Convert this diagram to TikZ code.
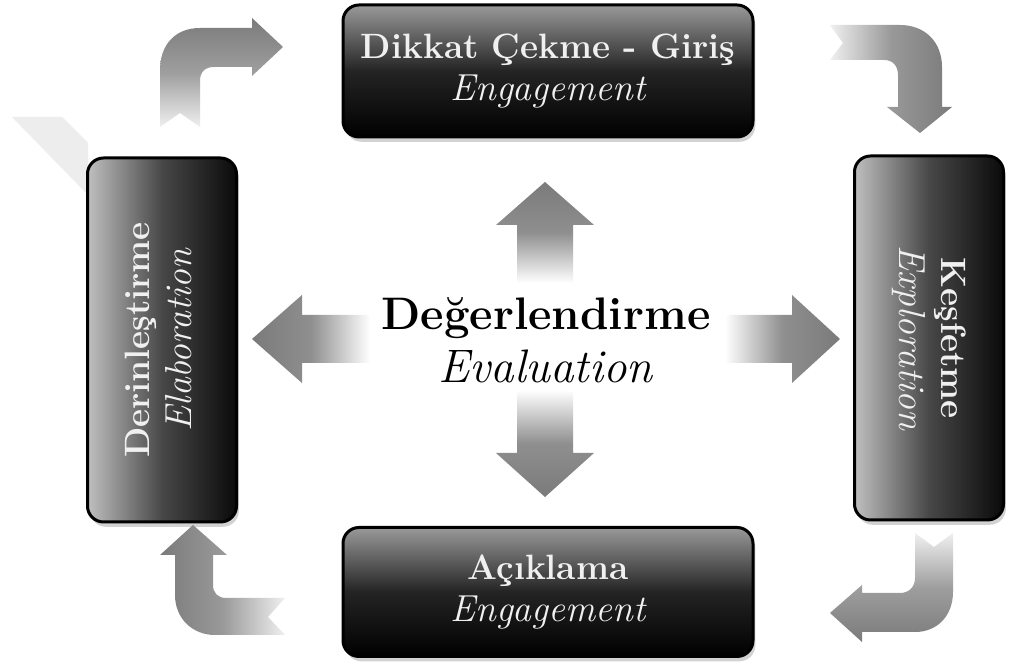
\documentclass[tikz,border=0pt]{standalone}
\usepackage{fontspec}
\usetikzlibrary{shadows}

\newcommand{\stagename}[1]{{\fontsize{17.6}{21}\selectfont\bfseries #1}}
\newcommand{\stageeng}[1]{{\fontsize{18.8}{21}\selectfont\itshape #1}}

\begin{document}
\begin{tikzpicture}[x=0.5pt,y=0.5pt,
    stagebox/.style={draw=black, line width=1.5pt,
      rounded corners=8pt, text=white!94!black, align=center, inner sep=0pt,
      font=\fontsize{18.8}{21}\selectfont,
      drop shadow={shadow xshift=1.2pt, shadow yshift=-2.4pt, opacity=.35}},
    hstage/.style={stagebox, minimum width=205pt, minimum height=66pt,
      top color=black!40, bottom color=black, middle color=black!86},
    vstage/.style={stagebox, minimum width=74.5pt, minimum height=182pt,
      left color=black!25, right color=black!96, middle color=black!72},
    bentup/.style={top color=black!52, bottom color=black!6, middle color=black!38},
    bentdown/.style={top color=black!6, bottom color=black!52, middle color=black!38},
    bentright/.style={left color=black!6, right color=black!52, middle color=black!40},
    bentleft/.style={left color=black!52, right color=black!6, middle color=black!40},
    fadeup/.style={top color=black!52, bottom color=white, middle color=black!44},
    fadedown/.style={top color=white, bottom color=black!52, middle color=black!44},
    fadeleft/.style={left color=black!52, right color=white, middle color=black!44},
    faderight/.style={left color=white, right color=black!52, middle color=black!44}
  ]
  \path[use as bounding box, fill=white] (0,0) rectangle (1009,-672);

  % pale band behind the left box
  \fill[black!7] (12,-117) -- (62,-117) -- (88,-143) -- (88,-195) -- cycle;

  % stages
  \node[hstage] (engage) at (548,-71)
    {\stagename{Dikkat Çekme - Giriş}\\\stageeng{Engagement}};
  \node[vstage] (explore) at (929,-338)
    {\rotatebox{-90}{\begin{tabular}{@{}c@{}}\stagename{Keşfetme}\\\stageeng{Exploration}\end{tabular}}};
  \node[hstage, minimum height=64.5pt] (explain) at (548,-592)
    {\stagename{Açıklama}\\\stageeng{Engagement}};
  \node[vstage] (elaborate) at (162,-340)
    {\rotatebox{90}{\begin{tabular}{@{}c@{}}\stagename{Derinleştirme}\\\stageeng{Elaboration}\end{tabular}}};

  % centre
  \node[align=center, font=\fontsize{23.5}{26.5}\selectfont] (evaluate) at (546,-340)
    {{\fontsize{22.8}{26.5}\selectfont\bfseries Değerlendirme}\\\textit{Evaluation}};

  % bent arrows round the cycle
  \path[bentup] (160,-127) -- (160,-70) .. controls (160,-45) and (175,-28) .. (200,-28)
    -- (252,-28) -- (252,-18) -- (283,-47) -- (252,-76) -- (252,-67) -- (214,-67)
    .. controls (205,-67) and (200,-72) .. (200,-81) -- (200,-127) -- (180,-113) -- cycle;
  \path[bentright] (830,-25) -- (900,-25) .. controls (925,-25) and (942,-42) .. (942,-67)
    -- (942,-107) -- (952,-107) -- (920,-133) -- (887,-107) -- (898,-107) -- (898,-75)
    .. controls (898,-66) and (893,-60) .. (884,-60) -- (830,-60) -- (843,-43) -- cycle;
  \path[bentdown] (915,-533) -- (934,-547) -- (953,-533) -- (953,-592)
    .. controls (953,-615) and (938,-632) .. (915,-632) -- (862,-632) -- (862,-642)
    -- (830,-613) -- (862,-585) -- (862,-593) -- (900,-593)
    .. controls (909,-593) and (915,-587) .. (915,-578) -- cycle;
  \path[bentleft] (285,-598) -- (268,-617) -- (285,-635) -- (215,-635)
    .. controls (192,-635) and (175,-618) .. (175,-595) -- (175,-555) -- (160,-555)
    -- (193,-525) -- (227,-555) -- (213,-555) -- (213,-585)
    .. controls (213,-593) and (218,-598) .. (226,-598) -- cycle;

  % arrows out of the centre
  \path[fadeup] (517,-283) -- (517,-225) -- (496,-225) -- (545,-182) -- (594,-225)
    -- (573,-225) -- (573,-283) -- cycle;
  \path[fadedown] (517,-390) -- (573,-390) -- (573,-453) -- (594,-453) -- (545,-497)
    -- (496,-453) -- (517,-453) -- cycle;
  \path[fadeleft] (370,-315) -- (302,-315) -- (302,-295) -- (252,-339) -- (302,-383)
    -- (302,-363) -- (370,-363) -- cycle;
  \path[faderight] (725,-315) -- (792,-315) -- (792,-295) -- (840,-339) -- (792,-383)
    -- (792,-363) -- (725,-363) -- cycle;
\end{tikzpicture}
\end{document}
